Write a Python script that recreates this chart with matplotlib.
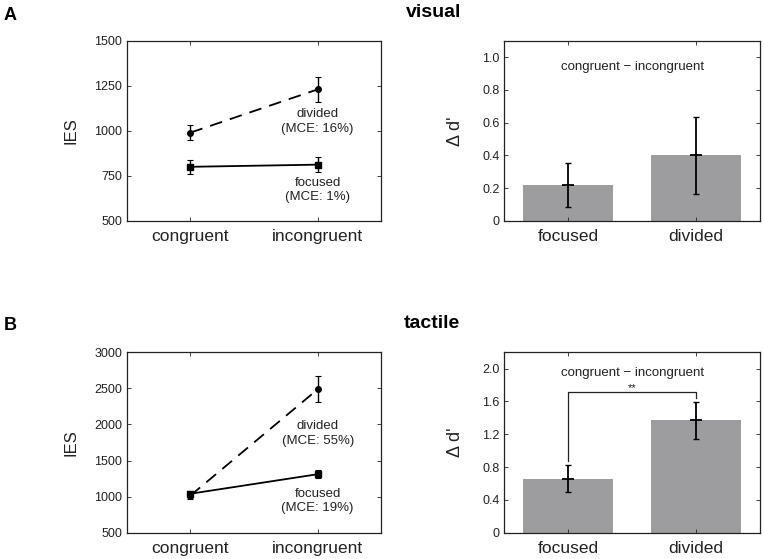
import matplotlib.pyplot as plt
import numpy as np

plt.rcParams['font.family'] = ['Liberation Sans', 'DejaVu Sans']

############################################### data
conditions = ['congruent', 'incongruent']
groups = ['focused', 'divided']

# IES, visual
vis_focused = [800, 812]
vis_focused_err = [40, 40]
vis_divided = [990, 1230]
vis_divided_err = [42, 70]
# IES, tactile
tac_focused = [1040, 1310]
tac_focused_err = [40, 55]
tac_divided = [1015, 2485]
tac_divided_err = [45, 180]

# delta d' (congruent - incongruent)
vis_dd = [0.22, 0.40]
vis_dd_err = [0.135, 0.235]
tac_dd = [0.66, 1.37]
tac_dd_err = [0.16, 0.225]

mce_vis = ['1%', '16%']
mce_tac = ['19%', '55%']

bar_color = '#9d9d9f'


def style_axes(ax):
    ax.tick_params(direction='in', length=3, width=0.6, top=True, right=True,
                   labeltop=False, labelright=False, labelsize=9, colors='#222222')
    for s in ax.spines.values():
        s.set_linewidth(0.9)
        s.set_color('#222222')
    ax.tick_params(axis='x', labelsize=12.5, pad=6, colors='#222222')


def ies_panel(ax, foc, foc_err, div, div_err, ylim, yticks, mce, div_y, foc_y):
    x = np.arange(len(conditions))
    ax.errorbar(x, div, yerr=div_err, color='black', ls=(0, (7, 4.5)), lw=1.3,
                marker='o', ms=4, capsize=2, elinewidth=1, capthick=0.8)
    ax.errorbar(x, foc, yerr=foc_err, color='black', ls='-', lw=1.3,
                marker='s', ms=4, capsize=2, elinewidth=1, capthick=0.8)
    ax.set_xlim(-0.5, 1.5)
    ax.set_ylim(*ylim)
    ax.set_yticks(yticks)
    ax.set_xticks(x)
    ax.set_xticklabels(conditions)
    ax.set_ylabel('IES', fontsize=12, labelpad=11, color='#222222')
    ax.text(1, div_y, 'divided\n(MCE: %s)' % mce[1], ha='center', va='center',
            fontsize=9.5, color='#222222', linespacing=1.25)
    ax.text(1, foc_y, 'focused\n(MCE: %s)' % mce[0], ha='center', va='center',
            fontsize=9.5, color='#222222', linespacing=1.25)
    style_axes(ax)


def dd_panel(ax, vals, errs, ylim, yticks, ticklabels, text_y):
    x = np.arange(len(groups))
    ax.bar(x, vals, width=0.7, color=bar_color)
    ax.errorbar(x, vals, yerr=errs, fmt='none', ecolor='black', elinewidth=1.3,
                capsize=2.5, capthick=1)
    ax.plot(x, vals, ls='none', marker='_', ms=8, mew=1.3, color='black')
    ax.set_xlim(-0.5, 1.5)
    ax.set_ylim(*ylim)
    ax.set_yticks(yticks)
    ax.set_yticklabels(ticklabels)
    ax.set_xticks(x)
    ax.set_xticklabels(groups)
    ax.set_ylabel("\u0394 d'", fontsize=13, labelpad=13, color='#222222')
    ax.text(0.5, text_y, 'congruent \u2212 incongruent', ha='center', va='center',
            fontsize=9.5, color='#222222')
    style_axes(ax)


fig = plt.figure(figsize=(7.64, 5.59), dpi=100)

axA1 = fig.add_axes([0.166, 0.605, 0.333, 0.322])
axA2 = fig.add_axes([0.660, 0.605, 0.335, 0.322])
axB1 = fig.add_axes([0.166, 0.047, 0.333, 0.323])
axB2 = fig.add_axes([0.660, 0.047, 0.335, 0.323])

ies_panel(axA1, vis_focused, vis_focused_err, vis_divided, vis_divided_err,
          (500, 1500), [500, 750, 1000, 1250, 1500], mce_vis, 1052, 672)
ies_panel(axB1, tac_focused, tac_focused_err, tac_divided, tac_divided_err,
          (500, 3000), [500, 1000, 1500, 2000, 2500, 3000], mce_tac, 1875, 940)

dd_panel(axA2, vis_dd, vis_dd_err, (0, 1.1), [0, 0.2, 0.4, 0.6, 0.8, 1.0],
         ['0', '0.2', '0.4', '0.6', '0.8', '1.0'], 0.94)
dd_panel(axB2, tac_dd, tac_dd_err, (0, 2.2), [0, 0.4, 0.8, 1.2, 1.6, 2.0],
         ['0', '0.4', '0.8', '1.2', '1.6', '2.0'], 1.95)

# significance bracket, tactile
axB2.plot([0, 0, 1, 1], [0.88, 1.71, 1.71, 1.64], color='#222222', lw=0.9)
axB2.text(0.5, 1.765, '**', ha='center', va='center', fontsize=8, color='#222222')

fig.text(0.005, 0.972, 'A', fontsize=13, fontweight='bold', ha='left', va='center')
fig.text(0.005, 0.418, 'B', fontsize=13, fontweight='bold', ha='left', va='center')
fig.text(0.531, 0.978, 'visual', fontsize=14, fontweight='bold', ha='left', va='center')
fig.text(0.529, 0.421, 'tactile', fontsize=14, fontweight='bold', ha='left', va='center')

fig.savefig('out.png', dpi=100)
